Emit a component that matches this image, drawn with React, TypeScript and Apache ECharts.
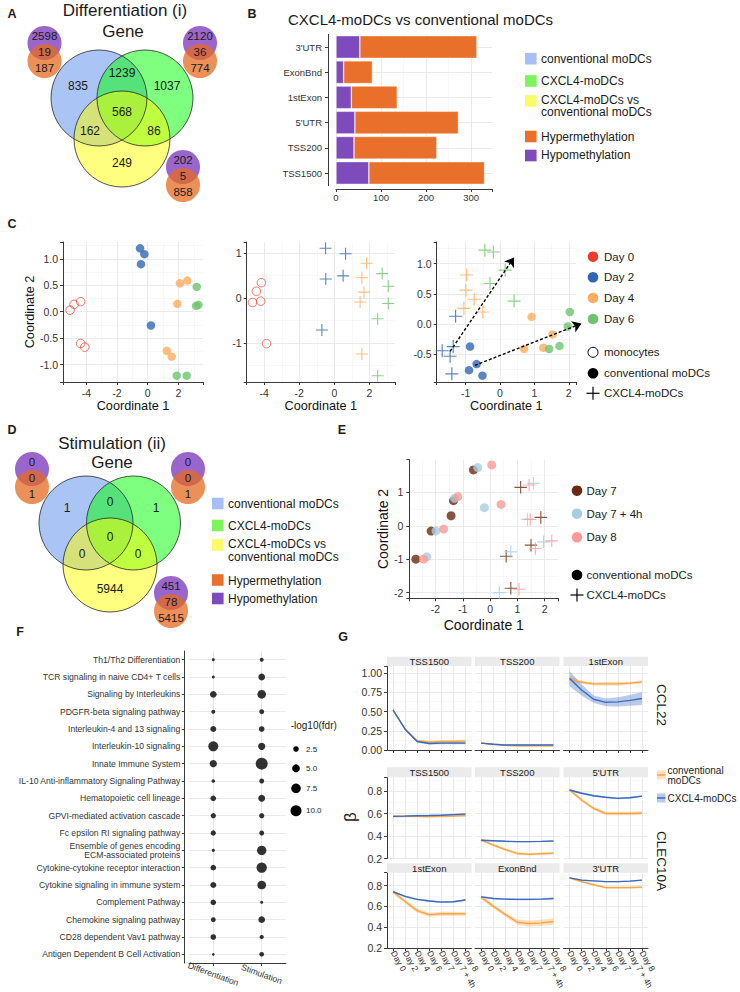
import React, { useEffect, useRef } from 'react';
import * as echarts from 'echarts';

const FONT = '"Liberation Sans", Arial, Helvetica, sans-serif';

// ===== A / D : Venn counts =====
// order: conv only, conv∩cxcl, cxcl only, all three, conv∩vs, cxcl∩vs, vs only
const vennDiffCounts = [835, 1239, 1037, 568, 162, 86, 249];
const vennStimCounts = [1, 0, 1, 0, 0, 0, 5944];
// order: hypo only, hypo∩hyper, hyper only
const methDiffConv = [2598, 19, 187];
const methDiffCxcl = [2120, 36, 774];
const methDiffVs = [202, 5, 858];
const methStimConv = [0, 0, 1];
const methStimCxcl = [0, 0, 1];
const methStimVs = [451, 78, 5415];
const groupLegend = ['conventional moDCs', 'CXCL4-moDCs', 'CXCL4-moDCs vs\nconventional moDCs', 'Hypermethylation', 'Hypomethylation'];

// ===== B =====
const regionCats = ["3'UTR", 'ExonBnd', '1stExon', "5'UTR", 'TSS200', 'TSS1500'];
const hypoCounts = [53, 17, 34, 42, 40, 73];
const hyperCounts = [260, 64, 102, 230, 184, 257];

// ===== C =====
const cDays = ['Day 0', 'Day 2', 'Day 4', 'Day 6'];
const cTypes = ['monocytes', 'conventional moDCs', 'CXCL4-moDCs'];
const c1Mono0 = [[-5.06, 0.03], [-4.8, 0.14], [-4.37, 0.19], [-4.37, -0.6], [-4.1, -0.67]];
const c1Conv2 = [[-0.5, 1.2], [-0.22, 1.09], [-0.44, 0.9], [0.21, -0.26]];
const c1Conv4 = [[2.1, 0.54], [2.58, 0.59], [1.93, 0.15], [1.24, -0.74], [1.56, -0.85]];
const c1Conv6 = [[3.19, 0.47], [3.15, 0.11], [3.3, 0.13], [1.89, -1.21], [2.54, -1.21]];
const c2Mono0 = [[-4.16, 0.34], [-4.45, 0.15], [-4.67, -0.1], [-4.2, -0.07], [-3.87, -1.01]];
const c2Cx2 = [[-0.5, 1.1], [0.64, 0.98], [-0.49, 0.42], [0.5, 0.49], [-0.71, -0.71]];
const c2Cx4 = [[1.84, 0.77], [1.57, 0.45], [1.69, 0.13], [1.47, -0.09], [1.57, -1.24]];
const c2Cx6 = [[2.73, 0.54], [3.08, 0.26], [3.08, -0.12], [2.47, -0.46], [2.47, -1.72]];
const c3Cx2 = [[-1.29, 0.13], [-1.68, -0.44], [-1.45, -0.53], [-1.36, -0.37], [-1.4, -0.82]];
const c3Cx4 = [[-0.97, 0.81], [-0.99, 0.56], [-0.75, 0.41], [-1.05, 0.26], [-0.5, 0.2]];
const c3Cx6 = [[-0.44, 1.22], [-0.19, 1.19], [0.15, 0.89], [-0.29, 0.67], [0.41, 0.38]];
const c3Conv2 = [[-0.87, -0.37], [-0.68, -0.66], [-0.9, -0.76], [-0.51, -0.85]];
const c3Conv4 = [[0.92, 0.12], [0.7, -0.41], [1.26, -0.39], [1.53, -0.17]];
const c3Conv6 = [[2.03, 0.2], [1.97, -0.04], [1.43, -0.41], [1.73, -0.36]];
const c3Arrows = [[[-1.45, -0.45], [0.41, 1.1]], [[-0.73, -0.68], [2.37, 0.01]]];

// ===== E =====
const eDays = ['Day 7', 'Day 7 + 4h', 'Day 8'];
const eTypes = ['conventional moDCs', 'CXCL4-moDCs'];
const eConv7 = [[-0.61, 1.67], [-1.34, 0.75], [-1.43, 0.3], [-2.16, -0.16], [-2.72, -1.0]];
const eConv74 = [[-0.45, 1.74], [-1.3, 0.82], [-0.21, 0.54], [-1.98, -0.16], [-2.32, -0.93]];
const eConv8 = [[0.06, 1.82], [-1.18, 0.87], [0.4, 0.64], [-1.7, -0.1], [-2.44, -1.0]];
const eCx7 = [[1.12, 1.15], [1.86, 0.25], [1.5, -0.58], [0.59, -0.91], [0.76, -1.87]];
const eCx74 = [[1.59, 1.27], [1.37, 0.19], [0.76, -0.78], [1.96, -0.48], [0.34, -2.0]];
const eCx8 = [[1.43, 1.22], [1.47, 0.19], [1.66, -0.68], [2.26, -0.45], [1.06, -1.9]];

// ===== F =====
const pathways = [
  'Th1/Th2 Differentiation', 'TCR signaling in naive CD4+ T cells', 'Signaling by Interleukins',
  'PDGFR-beta signaling pathway', 'Interleukin-4 and 13 signaling', 'Interleukin-10 signaling',
  'Innate Immune System', 'IL-10 Anti-inflammatory Signaling Pathway', 'Hematopoietic cell lineage',
  'GPVI-mediated activation cascade', 'Fc epsilon RI signaling pathway',
  'Ensemble of genes encoding\nECM-associated proteins', 'Cytokine-cytokine receptor interaction',
  'Cytokine signaling in immune system', 'Complement Pathway', 'Chemokine signaling pathway',
  'CD28 dependent Vav1 pathway', 'Antigen Dependent B Cell Activation',
];
const comparisons = ['Differentiation', 'Stimulation'];
const fdrDiff = [0.74, 0.74, 3.7, 1.3, 3.0, 8.3, 4.4, 1.1, 2.6, 2.3, 2.3, 0.9, 2.6, 3.0, 2.6, 2.0, 2.6, 0.6];
const fdrStim = [1.3, 3.7, 6.2, 2.0, 2.6, 4.4, 11.9, 2.0, 4.0, 2.3, 2.0, 7.2, 8.8, 6.2, 0.74, 3.7, 1.5, 1.8];
const fdrLegend = [2.5, 5.0, 7.5, 10.0];

// ===== G =====
const gDays = ['Day 0', 'Day 2', 'Day 4', 'Day 6', 'Day 7', 'Day 7 + 4h', 'Day 8'];
const gGroups = ['conventional\nmoDCs', 'CXCL4-moDCs'];
const ccl22Tss1500Conv = [0.52, 0.27, 0.12, 0.1, 0.11, 0.11, 0.115];
const ccl22Tss1500ConvSe = [0.02, 0.015, 0.015, 0.02, 0.02, 0.02, 0.02];
const ccl22Tss1500Cx = [0.52, 0.27, 0.11, 0.085, 0.09, 0.09, 0.09];
const ccl22Tss1500CxSe = [0.02, 0.015, 0.015, 0.015, 0.015, 0.015, 0.015];
const ccl22Tss200Conv = [0.09, 0.075, 0.06, 0.055, 0.055, 0.055, 0.055];
const ccl22Tss200ConvSe = [0.008, 0.008, 0.008, 0.008, 0.008, 0.008, 0.008];
const ccl22Tss200Cx = [0.09, 0.075, 0.065, 0.065, 0.065, 0.065, 0.065];
const ccl22Tss200CxSe = [0.006, 0.006, 0.006, 0.006, 0.006, 0.006, 0.006];
const ccl22Ex1Conv = [0.93, 0.88, 0.86, 0.86, 0.86, 0.87, 0.885];
const ccl22Ex1ConvSe = [0.03, 0.02, 0.02, 0.025, 0.025, 0.02, 0.02];
const ccl22Ex1Cx = [0.93, 0.78, 0.66, 0.62, 0.625, 0.645, 0.67];
const ccl22Ex1CxSe = [0.1, 0.07, 0.05, 0.05, 0.06, 0.07, 0.085];
const clecTss1500Conv = [0.575, 0.575, 0.575, 0.572, 0.575, 0.578, 0.582];
const clecTss1500ConvSe = [0.01, 0.01, 0.01, 0.01, 0.01, 0.01, 0.01];
const clecTss1500Cx = [0.575, 0.577, 0.58, 0.582, 0.585, 0.59, 0.595];
const clecTss1500CxSe = [0.008, 0.008, 0.008, 0.008, 0.008, 0.008, 0.008];
const clecTss200Conv = [0.365, 0.32, 0.28, 0.245, 0.238, 0.243, 0.248];
const clecTss200ConvSe = [0.012, 0.012, 0.012, 0.012, 0.012, 0.012, 0.012];
const clecTss200Cx = [0.362, 0.358, 0.353, 0.35, 0.35, 0.352, 0.355];
const clecTss200CxSe = [0.006, 0.006, 0.006, 0.006, 0.006, 0.006, 0.006];
const clecUtr5Conv = [0.81, 0.72, 0.645, 0.6, 0.6, 0.6, 0.605];
const clecUtr5ConvSe = [0.015, 0.015, 0.015, 0.015, 0.015, 0.015, 0.015];
const clecUtr5Cx = [0.809, 0.78, 0.758, 0.744, 0.735, 0.74, 0.755];
const clecUtr5CxSe = [0.008, 0.008, 0.008, 0.008, 0.008, 0.008, 0.008];
const clecEx1Conv = [0.741, 0.648, 0.56, 0.521, 0.53, 0.53, 0.53];
const clecEx1ConvSe = [0.02, 0.02, 0.02, 0.02, 0.02, 0.02, 0.02];
const clecEx1Cx = [0.741, 0.697, 0.668, 0.653, 0.642, 0.645, 0.662];
const clecEx1CxSe = [0.008, 0.008, 0.008, 0.008, 0.008, 0.008, 0.008];
const clecExBndConv = [0.69, 0.604, 0.525, 0.45, 0.437, 0.443, 0.457];
const clecExBndConvSe = [0.02, 0.02, 0.02, 0.025, 0.03, 0.03, 0.03];
const clecExBndCx = [0.692, 0.677, 0.67, 0.668, 0.668, 0.67, 0.677];
const clecExBndCxSe = [0.008, 0.008, 0.008, 0.008, 0.008, 0.008, 0.008];
const clecUtr3Conv = [0.873, 0.838, 0.808, 0.78, 0.78, 0.78, 0.785];
const clecUtr3ConvSe = [0.01, 0.01, 0.01, 0.01, 0.01, 0.01, 0.01];
const clecUtr3Cx = [0.873, 0.852, 0.845, 0.838, 0.838, 0.842, 0.852];
const clecUtr3CxSe = [0.006, 0.006, 0.006, 0.006, 0.006, 0.006, 0.006];

const gPanels = [
  { strip: 'TSS1500', conv: ccl22Tss1500Conv, convSe: ccl22Tss1500ConvSe, cx: ccl22Tss1500Cx, cxSe: ccl22Tss1500CxSe },
  { strip: 'TSS200', conv: ccl22Tss200Conv, convSe: ccl22Tss200ConvSe, cx: ccl22Tss200Cx, cxSe: ccl22Tss200CxSe },
  { strip: '1stExon', conv: ccl22Ex1Conv, convSe: ccl22Ex1ConvSe, cx: ccl22Ex1Cx, cxSe: ccl22Ex1CxSe },
  { strip: 'TSS1500', conv: clecTss1500Conv, convSe: clecTss1500ConvSe, cx: clecTss1500Cx, cxSe: clecTss1500CxSe },
  { strip: 'TSS200', conv: clecTss200Conv, convSe: clecTss200ConvSe, cx: clecTss200Cx, cxSe: clecTss200CxSe },
  { strip: "5'UTR", conv: clecUtr5Conv, convSe: clecUtr5ConvSe, cx: clecUtr5Cx, cxSe: clecUtr5CxSe },
  { strip: '1stExon', conv: clecEx1Conv, convSe: clecEx1ConvSe, cx: clecEx1Cx, cxSe: clecEx1CxSe },
  { strip: 'ExonBnd', conv: clecExBndConv, convSe: clecExBndConvSe, cx: clecExBndCx, cxSe: clecExBndCxSe },
  { strip: "3'UTR", conv: clecUtr3Conv, convSe: clecUtr3ConvSe, cx: clecUtr3Cx, cxSe: clecUtr3CxSe },
];

const CROSS = 'path://M4.55,0h0.9v4.55h4.55v0.9h-4.55v4.55h-0.9v-4.55h-4.55v-0.9h4.55z';

const stepFmt = (step: number, dec: number) => (v: number) => {
  const k = v / step;
  if (Math.abs(k - Math.round(k)) > 1e-6) return '';
  const r = Math.round(k) * step;
  return (Math.abs(r) < 1e-9 ? 0 : r).toFixed(dec);
};

function buildOption() {
  const grid: any[] = [];
  const xAxis: any[] = [];
  const yAxis: any[] = [];
  const series: any[] = [];
  const graphic: any[] = [];
  const AX = '#3a3a3a';
  const MAJ = '#e8e8e8';
  const MIN = '#f3f3f3';

  const lbl = (o: any = {}) => ({ color: '#333', fontFamily: FONT, fontSize: 10.5, ...o });
  const axLine = (show = true) => ({ show, onZero: false, lineStyle: { color: AX, width: 1 } });
  const axTick = (show = true, extra: any = {}) => ({ show, length: 3, lineStyle: { color: AX, width: 1 }, ...extra });
  const nameStyle = (fs: number) => ({ fontSize: fs, color: '#111', fontFamily: FONT });

  const gl = (gi: number, xMaj: number[], xMin: number[], yMaj: number[], yMin: number[]) => {
    const mk = (key: string, v: number, c: string, w: number) => ({ [key]: v, lineStyle: { color: c, width: w, type: 'solid' } });
    const data = [
      ...xMin.map((v) => mk('xAxis', v, MIN, 0.6)),
      ...yMin.map((v) => mk('yAxis', v, MIN, 0.6)),
      ...xMaj.map((v) => mk('xAxis', v, MAJ, 0.9)),
      ...yMaj.map((v) => mk('yAxis', v, MAJ, 0.9)),
    ];
    return {
      type: 'line', xAxisIndex: gi, yAxisIndex: gi, data: [], silent: true, z: 0,
      markLine: { silent: true, z: 0, symbol: ['none', 'none'], label: { show: false }, lineStyle: { type: 'solid' }, emphasis: { disabled: true }, animation: false, data },
    };
  };

  const txt = (x: number, y: number, text: string, o: any = {}) => {
    graphic.push({
      type: 'text', x, y, silent: true, rotation: o.rotation || 0, z: 10,
      style: {
        text, fill: o.fill || '#1a1a1a', fontFamily: FONT, fontSize: o.fs || 12, fontWeight: o.fw || 'normal',
        align: o.align || 'center', verticalAlign: 'middle', lineHeight: o.lh || undefined,
      },
    });
  };
  const circ = (cx: number, cy: number, r: number, style: any) => {
    graphic.push({ type: 'circle', silent: true, z: 5, shape: { cx, cy, r }, style });
  };

  // ---------- panel letters ----------
  const letters: [string, number, number][] = [['A', 12, 14], ['B', 252, 14], ['C', 12, 224], ['D', 12, 430], ['E', 342, 430], ['F', 20, 632], ['G', 343, 637]];
  letters.forEach(([t, x, y]) => txt(x, y, t, { fs: 12.5, fw: 'bold' }));

  // ---------- Venn diagrams ----------
  const bigVenn = (bx: number, gx: number, y0: number, yx: number, y1: number, r: number, counts: number[], pos: number[][]) => {
    circ(bx, y0, r, { fill: 'rgba(100,149,237,0.55)' });
    circ(gx, y0, r, { fill: 'rgba(0,255,0,0.5)' });
    circ(yx, y1, r, { fill: 'rgba(255,255,0,0.5)' });
    [[bx, y0], [gx, y0], [yx, y1]].forEach(([cx, cy]) => circ(cx, cy, r, { fill: 'none', stroke: '#262626', lineWidth: 0.8 }));
    counts.forEach((c, i) => txt(pos[i][0], pos[i][1], String(c), { fs: 12 }));
  };
  const smallVenn = (x: number, yTop: number, counts: number[]) => {
    circ(x, yTop + 7, 17, { fill: '#9b66cc' });
    circ(x, yTop + 25, 17, { fill: 'rgba(229,107,33,0.75)' });
    txt(x, yTop, String(counts[0]), { fs: 11.5 });
    txt(x, yTop + 16, String(counts[1]), { fs: 11.5 });
    txt(x, yTop + 32, String(counts[2]), { fs: 11.5 });
  };
  txt(125, 10, 'Differentiation (i)', { fs: 17 });
  txt(123, 31, 'Gene', { fs: 17 });
  bigVenn(99, 145, 98, 122, 139, 48, vennDiffCounts, [[78, 86], [122, 73], [167, 86], [122, 112], [90, 131], [154, 131], [122, 163]]);
  smallVenn(44.5, 36, methDiffConv);
  smallVenn(200, 36, methDiffCxcl);
  smallVenn(183, 160, methDiffVs);

  txt(112, 443, 'Stimulation (ii)', { fs: 17 });
  txt(112, 462, 'Gene', { fs: 17 });
  bigVenn(86, 133.5, 523, 110, 565, 47, vennStimCounts, [[67, 508], [110, 502], [156, 508], [110, 537], [82, 554], [138, 554], [110, 589]]);
  smallVenn(32, 462, methStimConv);
  smallVenn(188, 462, methStimCxcl);
  smallVenn(171, 586, methStimVs);

  // group / methylation legends (B and D)
  const swCols = ['#a7bff5', '#7ef45c', '#fbfb6a', '#e8702a', '#7e4bbd'];
  const groupLeg = (sx: number, tx: number, swY: number[], tY: number[]) => {
    groupLegend.forEach((t, i) => {
      graphic.push({ type: 'rect', silent: true, z: 5, shape: { x: sx, y: swY[i] - 5.8, width: 11.6, height: 11.6 }, style: { fill: swCols[i] } });
      txt(tx, tY[i], t, { fs: 12, align: 'left', lh: 12.5 });
    });
  };
  groupLeg(525, 541, [58.7, 81, 101, 136.5, 155.5], [59, 81, 106, 137, 155]);
  groupLeg(212, 228, [503.5, 525.5, 545, 580, 598.5], [504, 526, 550.5, 581, 599]);

  // ---------- B ----------
  txt(288, 19, 'CXCL4-moDCs vs conventional moDCs', { fs: 15, align: 'left' });
  grid.push({ left: 336, top: 34.4, width: 156, height: 151.2 });
  xAxis.push({ gridIndex: 0, type: 'value', min: 0, max: 346.5, interval: 100, offset: 3.4, z: 1, axisLine: axLine(), axisTick: axTick(), splitLine: { show: false }, axisLabel: lbl({ fontSize: 9.5, margin: 3, formatter: stepFmt(100, 0) }) });
  yAxis.push({ gridIndex: 0, type: 'category', data: regionCats, inverse: true, offset: 8, z: 1, axisLine: axLine(), axisTick: axTick(true, { alignWithLabel: true }), splitLine: { show: false }, axisLabel: lbl({ fontSize: 9.5, margin: 6 }) });
  series.push(gl(0, [0, 100, 200, 300], [50, 150, 250], [0, 1, 2, 3, 4, 5], []));
  series.push({ type: 'bar', xAxisIndex: 0, yAxisIndex: 0, stack: 'meth', data: hypoCounts, barCategoryGap: '10%', silent: true, z: 2, itemStyle: { color: '#7e4bbd', borderColor: 'rgba(255,255,255,0.7)', borderWidth: 0.6 } });
  series.push({ type: 'bar', xAxisIndex: 0, yAxisIndex: 0, stack: 'meth', data: hyperCounts, barCategoryGap: '10%', silent: true, z: 2, itemStyle: { color: '#e8702a', borderColor: 'rgba(255,255,255,0.7)', borderWidth: 0.6 } });

  // ---------- C ----------
  const dayCol = ['#ee3a2c', '#2f66b3', '#fdad5f', '#6dc46d'];
  const cPlots = [
    { left: 63, w: 140, xr: [-5.52, 3.6], yr: [-1.33, 1.32], ys: 5, ystep: 0.5, ydec: 1, xMaj: [-4, -2, 0, 2], xMin: [-5, -3, -1, 1, 3], yMaj: [-1, -0.5, 0, 0.5, 1], yMin: [-1.25, -0.75, -0.25, 0.25, 0.75, 1.25] },
    { left: 246.7, w: 148.3, xr: [-5.0, 3.46], yr: [-1.86, 1.24], ys: 3, ystep: 1, ydec: 0, xMaj: [-4, -2, 0, 2], xMin: [-5, -3, -1, 1, 3], yMaj: [-1, 0, 1], yMin: [-1.5, -0.5, 0.5] },
    { left: 436.7, w: 139.3, xr: [-1.84, 2.21], yr: [-0.955, 1.355], ys: 5, ystep: 0.5, ydec: 1, xMaj: [-1, 0, 1, 2], xMin: [-1.5, -0.5, 0.5, 1.5], yMaj: [-0.5, 0, 0.5, 1], yMin: [-0.75, -0.25, 0.25, 0.75, 1.25] },
  ];
  cPlots.forEach((p, k) => {
    const gi = 1 + k;
    grid.push({ left: p.left, top: 242, width: p.w, height: 140 });
    xAxis.push({ gridIndex: gi, type: 'value', min: p.xr[0], max: p.xr[1], z: 1, axisLine: axLine(), axisTick: axTick(), splitLine: { show: false }, axisLabel: lbl({ margin: 5, formatter: stepFmt(p.xMaj[1] - p.xMaj[0], 0) }), name: 'Coordinate 1', nameLocation: 'middle', nameGap: 17, nameTextStyle: nameStyle(12.7) });
    yAxis.push({ gridIndex: gi, type: 'value', min: p.yr[0], max: p.yr[1], splitNumber: p.ys, z: 1, axisLine: axLine(), axisTick: axTick(), splitLine: { show: false }, axisLabel: lbl({ margin: 5, formatter: stepFmt(p.ystep, p.ydec) }), ...(k === 0 ? { name: 'Coordinate 2', nameLocation: 'middle', nameGap: 27, nameTextStyle: nameStyle(12.7) } : {}) });
    series.push(gl(gi, p.xMaj, p.xMin, p.yMaj, p.yMin));
  });
  const scat = (gi: number, data: number[][], color: string, kind: string, size?: number) => ({
    type: 'scatter', xAxisIndex: gi, yAxisIndex: gi, data, silent: true, z: 3,
    symbol: kind === 'cross' ? CROSS : 'circle',
    symbolSize: size || (kind === 'cross' ? 12 : 8.5),
    itemStyle: kind === 'open' ? { color: 'rgba(255,255,255,0)', borderColor: color, borderWidth: 0.9 } : { color },
  });
  series.push(scat(1, c1Mono0, dayCol[0], 'open', 8.5));
  series.push(scat(1, c1Conv2, dayCol[1], 'fill'));
  series.push(scat(1, c1Conv4, dayCol[2], 'fill'));
  series.push(scat(1, c1Conv6, dayCol[3], 'fill'));
  series.push(scat(2, c2Mono0, dayCol[0], 'open', 8.5));
  series.push(scat(2, c2Cx2, dayCol[1], 'cross'));
  series.push(scat(2, c2Cx4, dayCol[2], 'cross'));
  series.push(scat(2, c2Cx6, dayCol[3], 'cross'));
  series.push(scat(3, c3Cx2, dayCol[1], 'cross', 13));
  series.push(scat(3, c3Cx4, dayCol[2], 'cross', 13));
  series.push(scat(3, c3Cx6, dayCol[3], 'cross', 13));
  series.push(scat(3, c3Conv2, dayCol[1], 'fill'));
  series.push(scat(3, c3Conv4, dayCol[2], 'fill'));
  series.push(scat(3, c3Conv6, dayCol[3], 'fill'));
  series.push({
    type: 'lines', coordinateSystem: 'cartesian2d', xAxisIndex: 3, yAxisIndex: 3, silent: true, z: 4, clip: false,
    data: c3Arrows.map((a) => ({ coords: a })), symbol: ['none', 'arrow'], symbolSize: 9,
    lineStyle: { color: '#000', width: 1.4, type: [3, 2], opacity: 1, curveness: 0 },
  });
  // C legend
  cDays.forEach((d, i) => {
    const y = [256.7, 277.3, 298, 319][i];
    circ(593, y, 5.3, { fill: dayCol[i] });
    txt(604, y, d, { fs: 11.5, align: 'left' });
  });
  const typeLegend = (x: number, tx: number, ys: number[], labels: string[], withOpen: boolean) => {
    let j = 0;
    if (withOpen) {
      circ(x, ys[j], 5, { fill: 'none', stroke: '#000', lineWidth: 1 });
      txt(tx, ys[j], labels[j], { fs: 11.5, align: 'left' });
      j++;
    }
    circ(x, ys[j], 5.3, { fill: '#000' });
    txt(tx, ys[j], labels[j], { fs: 11.5, align: 'left' });
    j++;
    graphic.push({ type: 'line', silent: true, z: 5, shape: { x1: x - 6.5, y1: ys[j], x2: x + 6.5, y2: ys[j] }, style: { stroke: '#000', lineWidth: 1.2 } });
    graphic.push({ type: 'line', silent: true, z: 5, shape: { x1: x, y1: ys[j] - 6.5, x2: x, y2: ys[j] + 6.5 }, style: { stroke: '#000', lineWidth: 1.2 } });
    txt(tx, ys[j], labels[j], { fs: 11.5, align: 'left' });
  };
  typeLegend(593, 604, [352.3, 373.3, 393.3], cTypes, true);

  // ---------- E ----------
  const eCol = ['#6a2a10', '#a6cee3', '#fb9a99'];
  grid.push({ left: 409.3, top: 459.6, width: 149, height: 138.7 });
  xAxis.push({ gridIndex: 4, type: 'value', min: -2.96, max: 2.5, z: 1, axisLine: axLine(), axisTick: axTick(), splitLine: { show: false }, axisLabel: lbl({ margin: 5, formatter: stepFmt(1, 0) }), name: 'Coordinate 1', nameLocation: 'middle', nameGap: 19.5, nameTextStyle: nameStyle(14) });
  yAxis.push({ gridIndex: 4, type: 'value', min: -2.17, max: 1.98, z: 1, axisLine: axLine(), axisTick: axTick(), splitLine: { show: false }, axisLabel: lbl({ margin: 6, formatter: stepFmt(1, 0) }), name: 'Coordinate 2', nameLocation: 'middle', nameGap: 19, nameTextStyle: nameStyle(14) });
  series.push(gl(4, [-2, -1, 0, 1, 2], [-2.5, -1.5, -0.5, 0.5, 1.5], [-2, -1, 0, 1], [-1.5, -0.5, 0.5, 1.5]));
  series.push(scat(4, eConv7, eCol[0], 'fill', 9));
  series.push(scat(4, eConv74, eCol[1], 'fill', 9));
  series.push(scat(4, eConv8, eCol[2], 'fill', 9));
  series.push(scat(4, eCx7, eCol[0], 'cross', 12.5));
  series.push(scat(4, eCx74, eCol[1], 'cross', 12.5));
  series.push(scat(4, eCx8, eCol[2], 'cross', 12.5));
  eDays.forEach((d, i) => {
    const y = [490.7, 513.7, 537.3][i];
    circ(577, y, 5.3, { fill: eCol[i] });
    txt(586.5, y, d, { fs: 11.5, align: 'left' });
  });
  typeLegend(577, 586.5, [575, 595], eTypes, false);

  // ---------- F ----------
  const fSize = (v: number) => 3.48 * Math.sqrt(v);
  grid.push({ left: 189.1, top: 651, width: 96.8, height: 312 });
  xAxis.push({ gridIndex: 5, type: 'category', data: comparisons, z: 1, axisLine: axLine(), axisTick: axTick(true, { alignWithLabel: true }), splitLine: { show: false }, axisLabel: lbl({ fontSize: 8.7, margin: 11, rotate: -20, align: 'center', interval: 0 }), offset: 0 });
  yAxis.push({ gridIndex: 5, type: 'category', data: pathways, inverse: true, offset: 4.8, z: 1, axisLine: axLine(), axisTick: axTick(true, { alignWithLabel: true, length: 2.5 }), splitLine: { show: false }, axisLabel: lbl({ fontSize: 8.6, margin: 4, interval: 0, lineHeight: 8.5 }) });
  series.push(gl(5, [0, 1], [], pathways.map((_, i) => i), []));
  series.push({
    type: 'scatter', xAxisIndex: 5, yAxisIndex: 5, silent: true, z: 3,
    data: [...fdrDiff.map((v, i) => [0, i, v]), ...fdrStim.map((v, i) => [1, i, v])],
    symbolSize: (val: number[]) => fSize(val[2]), itemStyle: { color: '#000' },
  });
  txt(290.7, 725.7, '-log10(fdr)', { fs: 10, align: 'left' });
  fdrLegend.forEach((v, i) => {
    const y = [749, 768.3, 788.3, 810.7][i];
    circ(296, y, fSize(v) / 2, { fill: '#000' });
    txt(306, y, v.toFixed(1), { fs: 8, align: 'left' });
  });

  // ---------- G ----------
  const GCOLS = [387, 475, 563.5];
  const GW = 84.5;
  const GROWS = [
    { top: 666, h: 84, min: 0, max: 1.092, step: 0.25, dec: 2, xline: true, xlab: false, stripTop: 656.7, yMaj: [0.25, 0.5, 0.75, 1.0], yMin: [0.125, 0.375, 0.625, 0.875] },
    { top: 777.3, h: 81.2, min: 0.2, max: 0.922, step: 0.2, dec: 1, xline: false, xlab: false, stripTop: 767.3, yMaj: [0.2, 0.4, 0.6, 0.8], yMin: [0.3, 0.5, 0.7, 0.9] },
    { top: 872.7, h: 82.3, min: 0.2, max: 0.923, step: 0.2, dec: 1, xline: true, xlab: true, stripTop: 863.3, yMaj: [0.4, 0.6, 0.8], yMin: [0.3, 0.5, 0.7, 0.9] },
  ];
  const convCol = '#f7a646';
  const cxCol = '#3a6bbf';
  gPanels.forEach((p, k) => {
    const gi = 6 + k;
    const r = GROWS[Math.floor(k / 3)];
    const c = k % 3;
    grid.push({ left: GCOLS[c], top: r.top, width: GW, height: r.h });
    xAxis.push({
      gridIndex: gi, type: 'category', data: gDays, boundaryGap: true, z: 1,
      axisLine: axLine(r.xline), axisTick: axTick(r.xline, { alignWithLabel: true }), splitLine: { show: false },
      axisLabel: lbl({ show: r.xlab, fontSize: 8.5, rotate: -60, margin: 3, interval: 0 }),
    });
    yAxis.push({
      gridIndex: gi, type: 'value', min: r.min, max: r.max, interval: r.step, z: 1,
      axisLine: axLine(c === 0), axisTick: axTick(c === 0), splitLine: { show: false },
      axisLabel: lbl({ show: c === 0, margin: 5, formatter: stepFmt(r.step, r.dec) }),
    });
    series.push(gl(gi, [0, 1, 2, 3, 4, 5, 6], [], r.yMaj, r.yMin));
    const band = (mean: number[], se: number[], color: string, id: string) => [
      { type: 'line', xAxisIndex: gi, yAxisIndex: gi, stack: id, data: mean.map((m, i) => m - se[i]), symbol: 'none', silent: true, z: 2, lineStyle: { opacity: 0 } },
      { type: 'line', xAxisIndex: gi, yAxisIndex: gi, stack: id, data: se.map((s) => 2 * s), symbol: 'none', silent: true, z: 2, lineStyle: { opacity: 0 }, areaStyle: { color, opacity: 1 } },
    ];
    series.push(...band(p.conv, p.convSe, 'rgba(247,166,70,0.35)', 'conv' + k));
    series.push(...band(p.cx, p.cxSe, 'rgba(58,107,191,0.35)', 'cx' + k));
    series.push({ type: 'line', xAxisIndex: gi, yAxisIndex: gi, data: p.conv, symbol: 'none', silent: true, z: 3, lineStyle: { color: convCol, width: 1.4 } });
    series.push({ type: 'line', xAxisIndex: gi, yAxisIndex: gi, data: p.cx, symbol: 'none', silent: true, z: 3, lineStyle: { color: cxCol, width: 1.4 } });
    // strip
    graphic.push({ type: 'rect', silent: true, z: 5, shape: { x: GCOLS[c], y: r.stripTop, width: GW, height: r.top - r.stripTop }, style: { fill: '#ebebeb' } });
    txt(GCOLS[c] + GW / 2, (r.stripTop + r.top) / 2, p.strip, { fs: 9.5 });
  });
  txt(350, 817, '\u03b2', { fs: 17, rotation: Math.PI / 2 });
  txt(661, 705, 'CCL22', { fs: 13.5, rotation: -Math.PI / 2 });
  txt(661, 861, 'CLEC10A', { fs: 13.5, rotation: -Math.PI / 2 });
  // G legend
  const gl2 = [[convCol, 'rgba(247,166,70,0.35)', 775], [cxCol, 'rgba(58,107,191,0.35)', 798]] as any[];
  gl2.forEach(([lc, fc, y], i) => {
    graphic.push({ type: 'rect', silent: true, z: 5, shape: { x: 657, y: y - 4.5, width: 8.5, height: 9 }, style: { fill: fc } });
    graphic.push({ type: 'line', silent: true, z: 6, shape: { x1: 657, y1: y, x2: 665.5, y2: y }, style: { stroke: lc, lineWidth: 1.5 } });
    txt(667.5, y + (i === 0 ? 0.5 : 0), gGroups[i], { fs: 10, align: 'left', lh: 9.5 });
  });

  return { animation: false, backgroundColor: '#fff', grid, xAxis, yAxis, series, graphic: { elements: graphic } };
}

export default function App() {
  const ref = useRef<HTMLDivElement>(null);
  useEffect(() => {
    const chart = echarts.init(ref.current as HTMLDivElement, null, { renderer: 'svg' });
    chart.setOption(buildOption() as any);
    return () => chart.dispose();
  }, []);
  return <div ref={ref} style={{ position: 'absolute', left: 0, top: 0, width: 740, height: 992 }} />;
}
